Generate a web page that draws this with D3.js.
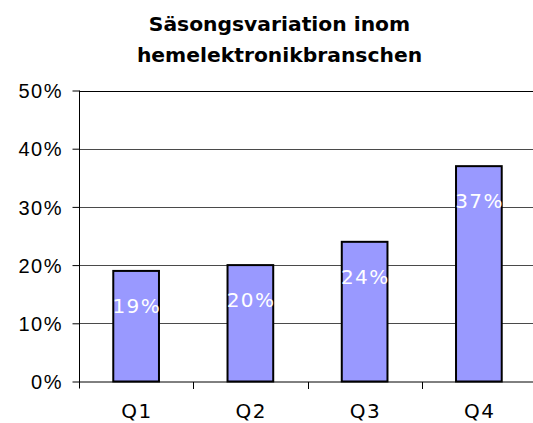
<!DOCTYPE html>
<html>
<head>
<meta charset="utf-8">
<script src="https://cdn.jsdelivr.net/npm/d3@7"></script>
<style>
  body { margin: 0; background: #fff; }
  svg { display: block; font-family: 'DejaVu Sans', Verdana, sans-serif; }
</style>
</head>
<body>
<div id="chart"></div>
<script>
'use strict'

const WIDTH = 533
const HEIGHT = 423
const titleLines = ['Säsongsvariation inom', 'hemelektronikbranschen']
const categories = ['Q1', 'Q2', 'Q3', 'Q4']
const values = [0.19, 0.20, 0.24, 0.37]
const yTicks = [0, 0.1, 0.2, 0.3, 0.4, 0.5]
const barColor = '#9999ff'
const labelSize = 20
const labelSpacing = 1.5

const plot = { left: 79, right: 536, top: 90.5, bottom: 381.5 }

const svg = d3.select('#chart')
  .append('svg')
  .attr('width', WIDTH)
  .attr('height', HEIGHT)

const x = d3.scaleBand()
  .domain(categories)
  .range([plot.left, plot.right])
  .paddingInner(0.6)
  .paddingOuter(0.3)

const y = d3.scaleLinear()
  .domain([0, 0.5])
  .range([plot.bottom, plot.top])

// title
svg.append('text')
  .attr('text-anchor', 'middle')
  .attr('font-weight', 'bold')
  .attr('font-size', 20.3)
  .attr('fill', '#000')
  .selectAll('tspan')
  .data(titleLines)
  .enter()
  .append('tspan')
  .attr('x', 279.5)
  .attr('y', (d, i) => 31 + i * 31)
  .text((d) => d)

// gridlines
svg.append('g')
  .selectAll('line')
  .data(yTicks.slice(1))
  .enter()
  .append('line')
  .attr('x1', plot.left)
  .attr('x2', plot.right)
  .attr('y1', (d) => Math.round(y(d)) + 0.5)
  .attr('y2', (d) => Math.round(y(d)) + 0.5)
  .attr('stroke', (d) => d === 0.5 ? '#000' : '#4a4a4a')
  .attr('stroke-width', 1)

// bars
svg.append('g')
  .selectAll('rect')
  .data(values)
  .enter()
  .append('rect')
  .attr('x', (d, i) => x(categories[i]))
  .attr('y', (d) => y(d))
  .attr('width', x.bandwidth())
  .attr('height', (d) => y(0) - y(d))
  .attr('fill', barColor)
  .attr('stroke', '#000')
  .attr('stroke-width', 2)

// data labels
svg.append('g')
  .selectAll('text')
  .data(values)
  .enter()
  .append('text')
  .attr('x', (d, i) => x(categories[i]) + x.bandwidth() / 2 + labelSpacing / 2)
  .attr('y', (d) => y(d) + 42)
  .attr('text-anchor', 'middle')
  .attr('font-size', labelSize)
  .attr('letter-spacing', labelSpacing)
  .attr('fill', '#fff')
  .text((d) => Math.round(d * 100) + '%')

// y axis
const yAxis = svg.append('g')
  .attr('transform', `translate(${plot.left + 0.5},0)`)
  .call(d3.axisLeft(y).tickValues(yTicks).tickFormat(d3.format('.0%')).tickSize(7).tickPadding(11 - labelSpacing))
yAxis.select('.domain').attr('d', `M0,${plot.top}V${plot.bottom + 7}`).attr('stroke', '#000')
yAxis.selectAll('text')
  .attr('font-size', labelSize)
  .attr('letter-spacing', labelSpacing)
  .attr('font-family', null)
  .attr('fill', '#000')
  .attr('dy', '0.36em')

// x axis
const xAxis = svg.append('g')
  .attr('transform', `translate(0,${plot.bottom + 0.5})`)
xAxis.append('line')
  .attr('x1', plot.left)
  .attr('x2', plot.right)
  .attr('stroke', '#000')
xAxis.selectAll('.sep')
  .data(categories.slice(1))
  .enter()
  .append('line')
  .attr('x1', (d) => Math.round(x(d) - x.step() * x.paddingInner() / 2) + 0.5)
  .attr('x2', (d) => Math.round(x(d) - x.step() * x.paddingInner() / 2) + 0.5)
  .attr('y1', 0)
  .attr('y2', 7)
  .attr('stroke', '#000')
xAxis.selectAll('.cat')
  .data(categories)
  .enter()
  .append('text')
  .attr('x', (d) => x(d) + x.bandwidth() / 2 + labelSpacing / 2)
  .attr('y', 36)
  .attr('text-anchor', 'middle')
  .attr('font-size', labelSize)
  .attr('letter-spacing', labelSpacing)
  .attr('fill', '#000')
  .text((d) => d)
</script>
</body>
</html>
